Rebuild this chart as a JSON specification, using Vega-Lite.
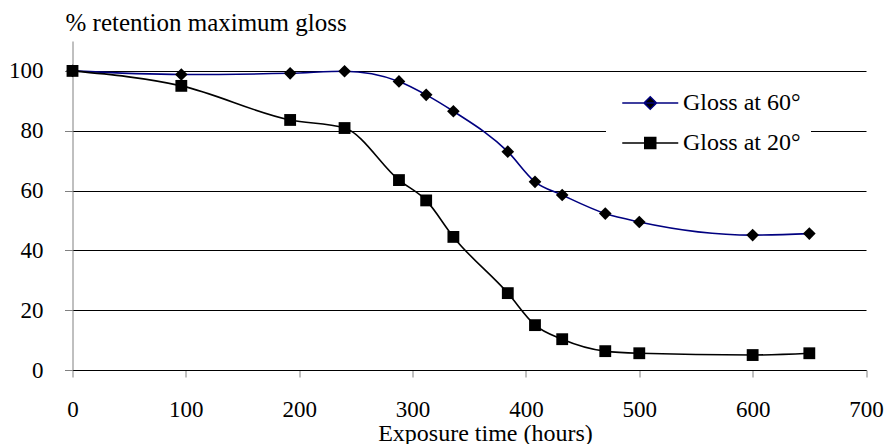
{
  "$schema": "https://vega.github.io/schema/vega-lite/v6.json",
  "autosize": "none",
  "width": 793.5,
  "height": 329,
  "padding": {"left": 72.5, "top": 41, "right": 19, "bottom": 74},
  "background": "white",
  "config": {
    "view": {"stroke": null},
    "font": "Liberation Serif"
  },
  "data": {
    "values": [
      {"t": 0, "series": "Gloss at 60°", "v": 100},
      {"t": 96, "series": "Gloss at 60°", "v": 98.8},
      {"t": 192, "series": "Gloss at 60°", "v": 99.2},
      {"t": 240, "series": "Gloss at 60°", "v": 99.9},
      {"t": 288, "series": "Gloss at 60°", "v": 96.5},
      {"t": 312, "series": "Gloss at 60°", "v": 92},
      {"t": 336, "series": "Gloss at 60°", "v": 86.5},
      {"t": 384, "series": "Gloss at 60°", "v": 73},
      {"t": 408, "series": "Gloss at 60°", "v": 62.9},
      {"t": 432, "series": "Gloss at 60°", "v": 58.5},
      {"t": 470, "series": "Gloss at 60°", "v": 52.3},
      {"t": 500, "series": "Gloss at 60°", "v": 49.5},
      {"t": 600, "series": "Gloss at 60°", "v": 45.1},
      {"t": 650, "series": "Gloss at 60°", "v": 45.6},
      {"t": 0, "series": "Gloss at 20°", "v": 100},
      {"t": 96, "series": "Gloss at 20°", "v": 95},
      {"t": 192, "series": "Gloss at 20°", "v": 83.6},
      {"t": 240, "series": "Gloss at 20°", "v": 80.9},
      {"t": 288, "series": "Gloss at 20°", "v": 63.5},
      {"t": 312, "series": "Gloss at 20°", "v": 56.7},
      {"t": 336, "series": "Gloss at 20°", "v": 44.5},
      {"t": 384, "series": "Gloss at 20°", "v": 25.7},
      {"t": 408, "series": "Gloss at 20°", "v": 15},
      {"t": 432, "series": "Gloss at 20°", "v": 10.3},
      {"t": 470, "series": "Gloss at 20°", "v": 6.3},
      {"t": 500, "series": "Gloss at 20°", "v": 5.6},
      {"t": 600, "series": "Gloss at 20°", "v": 5},
      {"t": 650, "series": "Gloss at 20°", "v": 5.6}
    ]
  },
  "layer": [
    {
      "mark": {"type": "line", "interpolate": "monotone", "strokeWidth": 1.6},
      "encoding": {
        "x": {
          "field": "t",
          "type": "quantitative",
          "scale": {"domain": [0, 700], "nice": false, "zero": false},
          "axis": {
            "title": "Exposure time (hours)",
            "titleFont": "Liberation Serif",
            "titleFontSize": 24,
            "titleFontWeight": "normal",
            "titleColor": "black",
            "titleX": 412.5,
            "titleY": 70,
            "titleBaseline": "alphabetic",
            "values": [0, 100, 200, 300, 400, 500, 600, 700],
            "grid": false,
            "domainColor": "black",
            "domainWidth": 1,
            "tickColor": "#808080",
            "tickSize": 7,
            "tickWidth": 1,
            "labelFont": "Liberation Serif",
            "labelFontSize": 23,
            "labelColor": "black",
            "labelBaseline": "alphabetic",
            "labelPadding": 39,
            "labelFlush": false,
            "labelOverlap": false
          }
        },
        "y": {
          "field": "v",
          "type": "quantitative",
          "scale": {"domain": [0, 110], "nice": false},
          "axis": {
            "title": "% retention maximum gloss",
            "titleFont": "Liberation Serif",
            "titleFontSize": 25,
            "titleFontWeight": "normal",
            "titleColor": "black",
            "titleAngle": 0,
            "titleAlign": "left",
            "titleBaseline": "alphabetic",
            "titleX": -7.5,
            "titleY": -11,
            "values": [0, 20, 40, 60, 80, 100],
            "grid": true,
            "gridColor": "black",
            "gridWidth": 1,
            "gridOpacity": 1,
            "domainColor": "#808080",
            "domainWidth": 1,
            "tickColor": "#808080",
            "tickSize": 8,
            "labelFont": "Liberation Serif",
            "labelFontSize": 23,
            "labelColor": "black",
            "labelPadding": 21.5,
            "labelOverlap": false
          }
        },
        "color": {
          "field": "series",
          "type": "nominal",
          "scale": {"domain": ["Gloss at 60°", "Gloss at 20°"], "range": ["#000080", "#000000"]},
          "legend": {
            "orient": "none",
            "legendX": 533.5,
            "legendY": 40,
            "title": null,
            "fillColor": "white",
            "strokeColor": null,
            "padding": 10,
            "labelFont": "Liberation Serif",
            "labelFontSize": 24,
            "labelColor": "black",
            "labelOffset": 43,
            "rowPadding": 16,
            "symbolSize": 100,
            "symbolStrokeWidth": 1.5,
            "symbolType": "M-1.15,0H10.05",
            "encode": {
              "symbols": {
                "update": {
                  "shape": {"signal": "datum.value === 'Gloss at 60°' ? 'M-1.15,0H10.05M4.45,-1.25L5.7,0L4.45,1.25L3.2,0Z' : 'M-1.15,0H10.05M3.35,-1.1H5.55V1.1H3.35Z'"},
                  "fill": {"value": "black"}
                }
              }
            }
          }
        }
      }
    },
    {
      "transform": [{"filter": "datum.series === 'Gloss at 60°'"}],
      "mark": {"type": "point", "shape": "diamond", "filled": true, "opacity": 1, "color": "black", "size": 160},
      "encoding": {
        "x": {"field": "t", "type": "quantitative"},
        "y": {"field": "v", "type": "quantitative"}
      }
    },
    {
      "transform": [{"filter": "datum.series === 'Gloss at 20°'"}],
      "mark": {"type": "point", "shape": "square", "filled": true, "opacity": 1, "color": "black", "size": 140},
      "encoding": {
        "x": {"field": "t", "type": "quantitative"},
        "y": {"field": "v", "type": "quantitative"}
      }
    }
  ]
}
